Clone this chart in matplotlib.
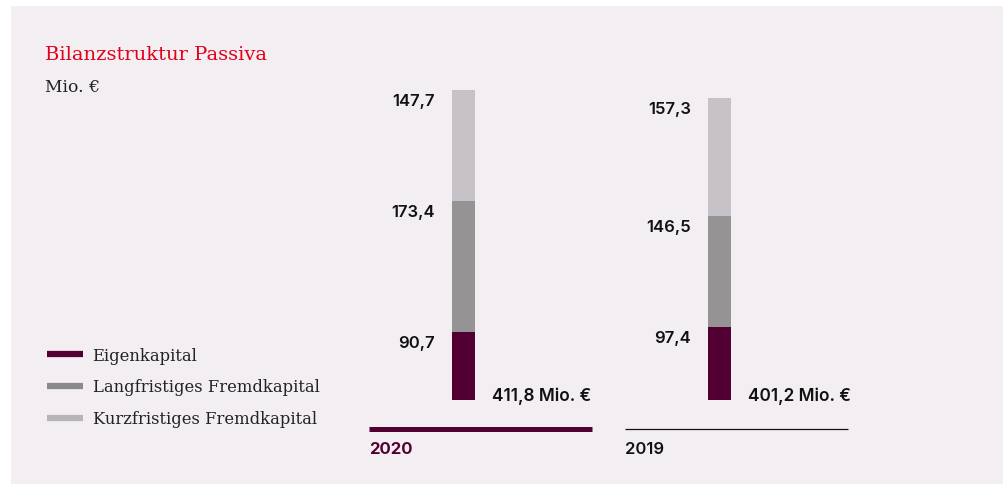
import matplotlib
matplotlib.use('Agg')
import matplotlib.pyplot as plt
from matplotlib.lines import Line2D
from matplotlib.patches import Rectangle

# balance sheet liabilities, Mio. EUR
years = ['2020', '2019']
eigenkapital = [90.7, 97.4]
langfristig = [173.4, 146.5]
kurzfristig = [147.7, 157.3]
totals = [411.8, 401.2]
series_names = ['Eigenkapital', 'Langfristiges Fremdkapital', 'Kurzfristiges Fremdkapital']

BG = '#f3eef2'
PURPLE = '#520033'
DARK_GREY = '#959394'
LIGHT_GREY = '#c6c1c7'
RED = '#e3001b'
SERIF = ['DejaVu Serif']
SANS = ['Inter', 'DejaVu Sans']


def fmt(v):
    return f'{v:.1f}'.replace('.', ',')


W, H = 1004, 485
fig = plt.figure(figsize=(W / 100, H / 100), dpi=100, facecolor='white')
fig.add_artist(Rectangle((11 / W, 0), 1 - 11 / W, 1 - 7 / H, transform=fig.transFigure,
                         facecolor=BG, edgecolor='none', zorder=0))

# axes placed so that y=0 sits at the bar baseline
px_per_unit = 0.753
ymax = 440
ax = fig.add_axes([360 / W, (H - 401) / H, 500 / W, ymax * px_per_unit / H])
ax.set_xlim(-0.404, 1.549)
ax.set_ylim(0, ymax)
ax.axis('off')

x = range(len(years))
width = 0.09
ax.bar(x, eigenkapital, width, color=PURPLE)
ax.bar(x, langfristig, width, bottom=eigenkapital, color=DARK_GREY)
bottoms = [a + b for a, b in zip(eigenkapital, langfristig)]
ax.bar(x, kurzfristig, width, bottom=bottoms, color=LIGHT_GREY)

for i in x:
    tops = [eigenkapital[i], eigenkapital[i] + langfristig[i],
            eigenkapital[i] + langfristig[i] + kurzfristig[i]]
    for val, top in zip([eigenkapital[i], langfristig[i], kurzfristig[i]], tops):
        ax.annotate(fmt(val), (i - width / 2, top), xytext=(-17, -3),
                    textcoords='offset pixels', ha='right', va='top',
                    fontsize=12, fontweight='semibold', family=SANS, color='#111111')
    ax.annotate(f'{fmt(totals[i])} Mio. €', (i + width / 2, 0), xytext=(17, 0),
                textcoords='offset pixels', ha='left', va='baseline',
                fontsize=12.4, fontweight='semibold', family=SANS, color='#111111')

    # year rule and label under each bar
    current = i == 0
    ax.plot([i - 0.369, i + 0.502], [-38.5, -38.5], clip_on=False,
            color=PURPLE if current else '#111111', lw=3.6 if current else 0.9,
            solid_capstyle='butt')
    ax.text(i - 0.369, -64, years[i], ha='left', va='center', fontsize=12,
            fontweight='bold' if current else 'semibold', family=SANS,
            color=PURPLE if current else '#111111', clip_on=False)

fig.text(45 / W, 1 - 55 / H, 'Bilanzstruktur Passiva', color=RED, fontsize=14,
         family=SERIF, ha='left', va='center')
fig.text(45 / W, 1 - 88 / H, 'Mio. €', color='#222222', fontsize=12.3,
         family=SERIF, ha='left', va='center')

handles = [Line2D([], [], color=c, lw=4.5, solid_capstyle='butt')
           for c in [PURPLE, '#8a8a8a', '#b7b4b7']]
fig.legend(handles, series_names, loc='upper left', bbox_to_anchor=(32 / W, 1 - 333 / H),
           frameon=False, handlelength=2.2, handletextpad=0.6,
           labelspacing=0.9, prop={'family': SERIF, 'size': 11.8}, labelcolor='#222222')

fig.savefig('out.png', dpi=100, facecolor='white')
